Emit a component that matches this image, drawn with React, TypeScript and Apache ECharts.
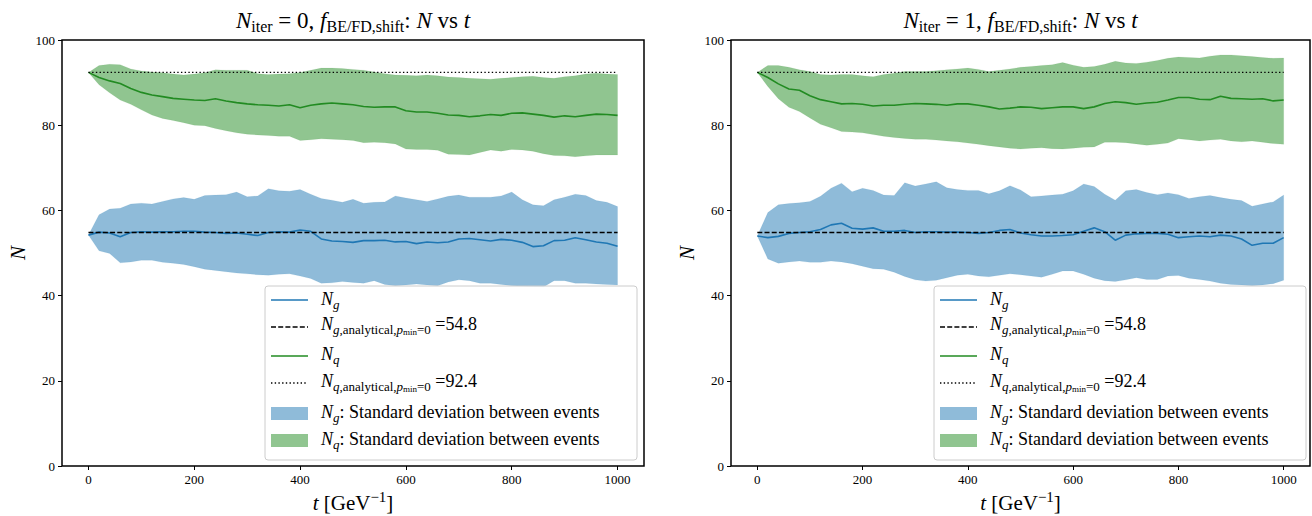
import React, { useEffect, useRef } from "react";
import * as echarts from "echarts";

const FONT = '"Liberation Serif", "DejaVu Serif", serif';
const BLUE = "#1f77b4";
const GREEN = "#228b22";

// time grid, t in GeV^-1
const T = [
  0, 20, 40, 60, 80, 100, 120, 140, 160, 180, 200, 220, 240, 260, 280, 300, 320, 340, 360, 380,
  400, 420, 440, 460, 480, 500, 520, 540, 560, 580, 600, 620, 640, 660, 680, 700, 720, 740, 760,
  780, 800, 820, 840, 860, 880, 900, 920, 940, 960, 980, 1000,
];

const X_TICKS = [0, 200, 400, 600, 800, 1000];

// analytical expectations (p_min = 0)
const NG_ANALYTICAL = 54.8;
const NQ_ANALYTICAL = 92.4;

// N_iter = 0
const ng0Mean = [54.2, 54.9, 54.7, 53.8, 54.8, 55.0, 54.9, 55.0, 55.0, 55.1, 55.1, 54.9, 54.8, 54.6, 54.7, 54.4, 54.1, 54.8, 55.0, 54.9, 55.4, 55.1, 53.3, 52.8, 52.7, 52.5, 52.9, 52.9, 53.0, 52.6, 52.7, 52.2, 52.6, 52.4, 52.6, 53.3, 53.4, 53.1, 52.8, 53.2, 53.0, 52.5, 51.5, 51.7, 52.9, 53.0, 53.6, 53.1, 52.6, 52.3, 51.6];
const ng0Upper = [54.2, 59.0, 60.3, 60.5, 61.5, 61.7, 61.5, 62.1, 62.7, 63.0, 62.6, 63.5, 63.6, 63.7, 64.3, 63.2, 63.4, 65.1, 64.6, 64.5, 64.9, 63.8, 62.8, 62.4, 61.9, 62.6, 61.7, 61.9, 62.0, 63.4, 62.9, 62.5, 62.1, 62.7, 63.3, 63.6, 63.1, 63.1, 63.1, 63.4, 64.3, 62.5, 61.3, 61.1, 62.5, 63.1, 63.8, 63.5, 62.3, 61.9, 60.9];
const ng0Lower = [54.2, 50.5, 49.9, 47.7, 47.9, 48.3, 48.3, 47.8, 47.6, 47.3, 46.8, 46.2, 45.9, 45.6, 45.3, 45.1, 44.9, 44.8, 45.0, 45.1, 44.6, 44.0, 42.9, 43.0, 43.3, 43.1, 42.9, 43.5, 42.6, 42.3, 42.5, 42.7, 42.5, 42.3, 43.2, 43.7, 43.5, 42.9, 42.9, 42.6, 42.3, 42.2, 42.1, 42.0, 43.5, 43.5, 42.9, 42.9, 42.7, 42.6, 42.5];
const nq0Mean = [92.4, 91.2, 90.4, 89.8, 88.6, 87.7, 87.1, 86.7, 86.3, 86.1, 85.9, 85.8, 86.2, 85.7, 85.3, 85.0, 84.8, 84.7, 84.5, 84.8, 84.1, 84.7, 85.0, 85.2, 85.0, 84.8, 84.4, 84.2, 84.3, 84.3, 83.4, 83.1, 83.1, 82.8, 82.4, 82.3, 82.0, 82.2, 82.5, 82.3, 82.8, 82.9, 82.6, 82.3, 81.9, 82.2, 82.0, 82.3, 82.6, 82.5, 82.3];
const nq0Upper = [92.4, 94.0, 94.3, 94.2, 93.2, 92.7, 92.5, 92.3, 92.0, 91.8, 92.0, 92.3, 93.0, 92.9, 92.9, 92.9, 92.1, 91.9, 92.0, 92.1, 92.4, 92.9, 93.4, 93.4, 93.3, 93.1, 92.9, 92.5, 92.1, 91.8, 91.7, 91.6, 91.8, 91.6, 91.3, 91.2, 91.0, 90.9, 90.8, 91.0, 91.2, 91.4, 91.5, 91.2, 91.0, 91.4, 91.6, 92.0, 92.2, 92.0, 91.9];
const nq0Lower = [92.4, 89.5, 87.6, 85.9, 84.9, 83.6, 82.4, 81.6, 81.1, 80.6, 80.0, 79.9, 79.2, 78.7, 78.2, 77.9, 77.7, 77.6, 77.4, 77.4, 76.4, 76.6, 76.8, 76.7, 76.6, 76.4, 75.9, 76.0, 75.9, 75.6, 74.4, 74.3, 74.3, 74.1, 73.2, 73.1, 73.0, 73.6, 74.2, 73.9, 74.3, 74.2, 73.9, 73.3, 72.9, 72.8, 72.6, 72.8, 73.0, 73.0, 73.0];

// N_iter = 1
const ng1Mean = [54.0, 53.6, 53.9, 54.6, 54.8, 55.0, 55.5, 56.6, 57.0, 55.8, 55.6, 55.9, 55.1, 55.1, 55.3, 54.8, 55.0, 55.0, 54.9, 54.9, 54.8, 54.6, 54.8, 55.3, 55.5, 54.7, 54.3, 54.0, 54.0, 54.1, 54.3, 55.1, 55.9, 55.0, 53.0, 54.2, 54.5, 54.6, 54.6, 54.4, 53.6, 53.8, 54.0, 53.8, 54.2, 54.0, 53.3, 51.8, 52.3, 52.3, 53.6];
const ng1Upper = [54.0, 59.5, 61.3, 61.6, 61.8, 62.1, 63.3, 65.2, 66.4, 64.4, 65.2, 64.7, 63.6, 63.5, 66.5, 65.7, 66.2, 66.7, 65.3, 64.9, 64.7, 64.7, 63.9, 64.6, 65.8, 64.8, 63.2, 63.4, 63.6, 63.8, 64.6, 66.2, 65.6, 63.8, 62.4, 64.6, 64.9, 64.2, 63.7, 64.1, 63.7, 62.8, 63.2, 63.5, 63.0, 62.6, 62.3, 61.0, 61.5, 62.0, 63.6];
const ng1Lower = [54.0, 48.6, 47.6, 47.9, 48.1, 47.8, 47.8, 48.1, 47.9, 47.5, 46.9, 46.3, 46.2, 45.5, 44.5, 43.7, 43.4, 43.6, 44.2, 44.8, 45.0, 44.6, 44.4, 44.8, 45.1, 44.9, 44.6, 44.3, 45.0, 45.8, 45.8, 45.0, 44.1, 43.5, 43.3, 43.7, 44.2, 43.8, 43.8, 44.6, 44.7, 44.1, 43.8, 43.4, 42.9, 42.6, 42.5, 42.3, 42.5, 42.8, 43.6];
const nq1Mean = [92.4, 91.2, 89.7, 88.5, 88.2, 86.9, 86.0, 85.5, 85.0, 85.1, 84.9, 84.5, 84.7, 84.7, 84.9, 85.1, 85.0, 84.9, 84.7, 85.0, 85.0, 84.7, 84.3, 83.8, 84.0, 84.3, 84.2, 83.9, 84.1, 84.3, 84.3, 83.9, 84.3, 85.1, 85.5, 85.3, 84.9, 85.2, 85.4, 85.9, 86.5, 86.5, 86.1, 86.0, 86.8, 86.3, 86.2, 86.1, 86.2, 85.7, 85.9];
const nq1Upper = [92.4, 94.0, 94.0, 93.6, 93.0, 92.6, 91.9, 91.8, 91.9, 91.9, 91.6, 91.4, 91.9, 92.2, 92.6, 92.6, 92.6, 92.8, 93.0, 93.2, 93.4, 93.1, 92.6, 92.9, 93.2, 93.6, 93.8, 94.0, 94.2, 94.7, 94.1, 93.6, 93.8, 94.3, 95.0, 94.6, 94.5, 94.8, 95.2, 95.7, 96.0, 95.9, 95.8, 96.2, 96.5, 96.5, 96.3, 96.1, 95.9, 95.7, 95.8];
const nq1Lower = [92.4, 89.1, 86.2, 84.2, 83.2, 81.7, 80.2, 79.4, 78.5, 78.4, 78.2, 77.8, 77.4, 77.1, 76.9, 76.7, 76.7, 76.5, 76.3, 76.1, 75.8, 75.5, 75.2, 74.9, 74.6, 74.4, 74.6, 74.7, 74.5, 74.4, 74.6, 74.8, 74.9, 76.0, 76.0, 75.9, 75.6, 75.3, 75.5, 75.8, 76.8, 76.6, 76.3, 76.5, 76.7, 76.3, 76.1, 76.3, 76.0, 75.7, 75.5];

const PANELS = [
  { iter: 0, ngMean: ng0Mean, ngUpper: ng0Upper, ngLower: ng0Lower, nqMean: nq0Mean, nqUpper: nq0Upper, nqLower: nq0Lower },
  { iter: 1, ngMean: ng1Mean, ngUpper: ng1Upper, ngLower: ng1Lower, nqMean: nq1Mean, nqUpper: nq1Upper, nqLower: nq1Lower },
];

// plot-area geometry of the two panels
const GRIDS = [
  { left: 62, top: 40, width: 582, height: 426 },
  { left: 731, top: 40, width: 579, height: 426 },
];

function rich(base: number) {
  const sub = Math.round(base * 0.7);
  const common = { fontFamily: FONT, fill: "#000", color: "#000" };
  return {
    i: { ...common, fontSize: base, fontStyle: "italic", lineHeight: base + 6 },
    r: { ...common, fontSize: base, lineHeight: base + 6 },
    si: { ...common, fontSize: sub, fontStyle: "italic", lineHeight: 12, verticalAlign: "bottom" },
    sr: { ...common, fontSize: sub, lineHeight: 12, verticalAlign: "bottom" },
    ssr: { ...common, fontSize: Math.round(base * 0.5), lineHeight: 4, verticalAlign: "bottom" },
    sup: { ...common, fontSize: sub, lineHeight: 12, verticalAlign: "top" },
  };
}

function richText(x: number, y: number, text: string, base: number, align = "left") {
  return {
    type: "text",
    x,
    y,
    z: 110,
    style: {
      text,
      rich: rich(base),
      fontFamily: FONT,
      fontSize: base,
      fill: "#000",
      align,
      verticalAlign: "middle",
    },
  };
}

function legend(dx: number) {
  const hx1 = 271 + dx;
  const hx2 = 308 + dx;
  const tx = 321 + dx;
  const fs = 18;
  const hline = (y: number, stroke: string, lineDash?: number[]) => ({
    type: "line",
    z: 105,
    shape: { x1: hx1, y1: y, x2: hx2, y2: y },
    style: { stroke, lineWidth: lineDash ? 1.4 : 1.6, lineDash },
  });
  const patch = (y: number, fill: string) => ({
    type: "rect",
    z: 105,
    shape: { x: hx1, y, width: hx2 - hx1, height: 13 },
    style: { fill, opacity: 0.5 },
  });
  return [
    {
      type: "rect",
      z: 100,
      shape: { x: 265 + dx, y: 286, width: 372, height: 174, r: 3 },
      style: { fill: "rgba(255,255,255,0.8)", stroke: "#cccccc", lineWidth: 1 },
    },
    hline(300, BLUE),
    hline(327, "#000", [5, 2.2]),
    hline(356, GREEN),
    hline(383, "#000", [1.4, 2.3]),
    patch(407, BLUE),
    patch(434, GREEN),
    richText(tx, 299, "{i|N}{si|g}", fs),
    richText(tx, 324, `{i|N}{si|g}{sr|,analytical,}{si|p}{ssr|min}{sr|=0}{r| =${NG_ANALYTICAL}}`, fs),
    richText(tx, 354, "{i|N}{si|q}", fs),
    richText(tx, 381, `{i|N}{si|q}{sr|,analytical,}{si|p}{ssr|min}{sr|=0}{r| =${NQ_ANALYTICAL}}`, fs),
    richText(tx, 412, "{i|N}{si|g}{r|: Standard deviation between events}", fs),
    richText(tx, 439, "{i|N}{si|q}{r|: Standard deviation between events}", fs),
  ];
}

function pairs(ys: number[]) {
  return T.map((t, k) => [t, ys[k]]);
}

// filled band between a lower and an upper curve, drawn as one polygon
function band(gi: number, lower: number[], upper: number[], color: string) {
  return {
    type: "custom",
    xAxisIndex: gi,
    yAxisIndex: gi,
    silent: true,
    z: 1,
    data: T.map((t, k) => [t, lower[k], upper[k]]),
    encode: { x: 0, y: [1, 2] },
    renderItem: (params: any, api: any) => {
      if (params.dataIndex !== 0) return null;
      const top = T.map((t, k) => api.coord([t, upper[k]]));
      const bottom = T.map((t, k) => api.coord([t, lower[k]])).reverse();
      return {
        type: "polygon",
        shape: { points: top.concat(bottom) },
        style: { fill: color, opacity: 0.5, stroke: color, lineWidth: 0.6, strokeOpacity: 0.25 },
      };
    },
  };
}

export default function App() {
  const ref = useRef<HTMLDivElement>(null);

  useEffect(() => {
    if (!ref.current) return;
    const chart = echarts.init(ref.current, undefined, { renderer: "svg" });

    const series: any[] = [];
    const graphics: any[] = [];

    PANELS.forEach((p, gi) => {
      const base = { type: "line", xAxisIndex: gi, yAxisIndex: gi, symbol: "none", silent: true };
      series.push(band(gi, p.ngLower, p.ngUpper, BLUE));
      series.push(band(gi, p.nqLower, p.nqUpper, GREEN));
      // means and analytical references
      series.push({ ...base, z: 3, data: pairs(p.ngMean), lineStyle: { color: BLUE, width: 1.6 } });
      series.push({ ...base, z: 3, data: [[T[0], NG_ANALYTICAL], [T[T.length - 1], NG_ANALYTICAL]], lineStyle: { color: "#000", width: 1.4, type: [5, 2.2] } });
      series.push({ ...base, z: 3, data: pairs(p.nqMean), lineStyle: { color: GREEN, width: 1.6 } });
      series.push({ ...base, z: 3, data: [[T[0], NQ_ANALYTICAL], [T[T.length - 1], NQ_ANALYTICAL]], lineStyle: { color: "#000", width: 1.4, type: [1.4, 2.3] } });

      const g = GRIDS[gi];
      const cx = g.left + g.width / 2;
      graphics.push(
        richText(cx, 20, `{i|N}{sr|iter}{r| = ${p.iter}, }{i|f}{sr|BE/FD,shift}{r|: }{i|N}{r| vs }{i|t}`, 23, "center"),
      );
      graphics.push(richText(cx, 503, "{i|t}{r| [GeV}{sup|−1}{r|]}", 21, "center"));
      graphics.push({
        type: "text",
        x: g.left - 44,
        y: g.top + g.height / 2,
        rotation: Math.PI / 2,
        z: 110,
        style: { text: "N", fontFamily: FONT, fontSize: 21, fontStyle: "italic", fill: "#000", align: "center", verticalAlign: "middle" },
      });
      graphics.push(...legend(g.left - GRIDS[0].left));
    });

    const axisText = { color: "#000", fontFamily: FONT, fontSize: 13 };

    chart.setOption({
      animation: false,
      backgroundColor: "#fff",
      grid: GRIDS.map((g) => ({ ...g, show: true, borderColor: "#000", borderWidth: 1.5, backgroundColor: "transparent", containLabel: false })),
      xAxis: GRIDS.map((_, gi) => ({
        type: "value",
        gridIndex: gi,
        min: -50,
        max: 1050,
        position: "bottom",
        axisLine: { show: false, onZero: false },
        axisTick: { show: true, length: 4, lineStyle: { color: "#000", width: 1 }, customValues: X_TICKS },
        axisLabel: { ...axisText, margin: 7, customValues: X_TICKS, formatter: (v: number) => String(v) },
        splitLine: { show: false },
      })),
      yAxis: GRIDS.map((_, gi) => ({
        type: "value",
        gridIndex: gi,
        min: 0,
        max: 100,
        interval: 20,
        position: "left",
        axisLine: { show: false, onZero: false },
        axisTick: { show: true, length: 4, lineStyle: { color: "#000", width: 1 } },
        axisLabel: { ...axisText, margin: 7 },
        splitLine: { show: false },
      })),
      series,
      graphic: graphics,
    });

    return () => chart.dispose();
  }, []);

  return (
    <div
      ref={ref}
      style={{ position: "fixed", left: 0, top: 0, width: 1312, height: 516, background: "#fff" }}
    />
  );
}
